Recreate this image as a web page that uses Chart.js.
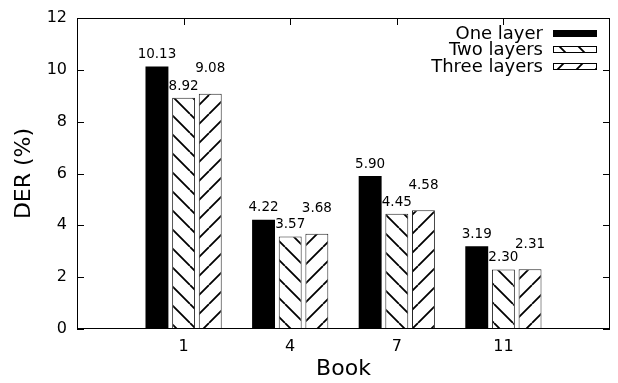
<!DOCTYPE html>
<html>
<head>
<meta charset="utf-8">
<script src="https://cdn.jsdelivr.net/npm/chart.js@4.4.1/dist/chart.umd.min.js"></script>
<style>
  html, body { margin: 0; padding: 0; background: #fff; }
  #wrap { width: 618px; height: 383px; }
</style>
</head>
<body>
<div id="wrap"><canvas id="derChart" width="618" height="383"></canvas></div>
<script>
// --- data ---
const books = ['1', '4', '7', '11'];
const oneLayer = [10.13, 4.22, 5.90, 3.19];
const twoLayers = [8.92, 3.57, 4.45, 2.30];
const threeLayers = [9.08, 3.68, 4.58, 2.31];
const seriesNames = ['One layer', 'Two layers', 'Three layers'];
const yTicks = [0, 2, 4, 6, 8, 10, 12];

const FONT = 'DejaVu Sans';
const canvas = document.getElementById('derChart');
const ctx = canvas.getContext('2d');

// hatch fill like gnuplot patterns
function hatch(dir) {
    const s = 19;
    const c = document.createElement('canvas');
    c.width = s; c.height = s;
    const g = c.getContext('2d');
    g.fillStyle = '#fff';
    g.fillRect(0, 0, s, s);
    g.strokeStyle = '#000';
    g.lineWidth = 1.8;
    g.beginPath();
    for (let k = -1; k <= 1; k++) {
        const o = k * s;
        if (dir === 'back') { g.moveTo(o, 0); g.lineTo(o + s, s); }
        else { g.moveTo(o + s, 0); g.lineTo(o, s); }
    }
    g.stroke();
    return ctx.createPattern(c, 'repeat');
}
const backHatch = hatch('back');
const fwdHatch = hatch('fwd');

// empty slot at each end so the groups sit like in gnuplot
const pad = arr => [null, ...arr, null];
const xLabels = ['', ...books, ''];

// inward ticks on all four sides + the frame
const frameTicks = {
    id: 'frameTicks',
    beforeDatasetsDraw(chart) {
        const { ctx, chartArea: a, scales } = chart;
        const L = Math.round(a.left), R = Math.round(a.right);
        const T = Math.round(a.top), B = Math.round(a.bottom);
        ctx.save();
        ctx.fillStyle = '#000';
        yTicks.forEach(v => {
            const y = Math.round(scales.y.getPixelForValue(v));
            ctx.fillRect(L, y, 7, 1);
            ctx.fillRect(R - 7, y, 7, 1);
        });
        books.forEach((b, i) => {
            const x = Math.round(scales.x.getPixelForValue(i + 1));
            ctx.fillRect(x, B - 7, 1, 7);
            ctx.fillRect(x, T, 1, 7);
        });
        ctx.restore();
    },
    afterDatasetsDraw(chart) {
        const { ctx, chartArea: a } = chart;
        const L = Math.round(a.left), R = Math.round(a.right);
        const T = Math.round(a.top), B = Math.round(a.bottom);
        ctx.save();
        ctx.fillStyle = '#000';
        ctx.fillRect(L, T, R - L, 1);
        ctx.fillRect(L, B - 1, R - L, 1);
        ctx.fillRect(L, T, 1, B - T);
        ctx.fillRect(R - 1, T, 1, B - T);
        ctx.restore();
    }
};

// numbers above bars
const valueLabels = {
    id: 'valueLabels',
    afterDatasetsDraw(chart) {
        const { ctx } = chart;
        const lift = [8.5, 8, 21.5];
        ctx.save();
        ctx.font = '13.5px ' + FONT;
        ctx.fillStyle = '#000';
        ctx.textAlign = 'center';
        ctx.textBaseline = 'alphabetic';
        chart.data.datasets.forEach((ds, di) => {
            chart.getDatasetMeta(di).data.forEach((bar, i) => {
                const v = ds.data[i];
                if (v === null) return;
                ctx.fillText(v.toFixed(2), bar.x, bar.y - lift[di]);
            });
        });
        ctx.restore();
    }
};

// gnuplot style key: text right aligned, sample on the right
const keyBox = {
    id: 'keyBox',
    afterDraw(chart) {
        const { ctx } = chart;
        const textRight = 543, sx = 553, sw = 44, sh = 7;
        const rows = [33, 49.5, 66];
        ctx.save();
        ctx.font = '18px ' + FONT;
        ctx.textAlign = 'right';
        ctx.textBaseline = 'middle';
        chart.data.datasets.forEach((ds, i) => {
            const y = rows[i];
            const top = Math.round(y - sh / 2);
            ctx.fillStyle = '#000';
            ctx.fillText(ds.label, textRight, y + 1);
            ctx.fillStyle = ds.backgroundColor;
            ctx.fillRect(sx, top, sw, sh);
            ctx.strokeStyle = '#000';
            ctx.lineWidth = 1;
            ctx.strokeRect(sx + 0.5, top + 0.5, sw - 1, sh - 1);
        });
        ctx.restore();
    }
};

new Chart(ctx, {
    type: 'bar',
    data: {
        labels: xLabels,
        datasets: [
            { label: seriesNames[0], data: pad(oneLayer), backgroundColor: '#000', borderColor: '#000', borderWidth: 0 },
            { label: seriesNames[1], data: pad(twoLayers), backgroundColor: backHatch, borderColor: '#222', borderWidth: 1 },
            { label: seriesNames[2], data: pad(threeLayers), backgroundColor: fwdHatch, borderColor: '#222', borderWidth: 1 }
        ]
    },
    options: {
        responsive: false,
        animation: false,
        devicePixelRatio: 1,
        layout: { padding: { top: 18, right: 8, left: 0, bottom: 0 } },
        datasets: { bar: { categoryPercentage: 0.75, barPercentage: 0.86 } },
        plugins: { legend: { display: false }, tooltip: { enabled: false } },
        scales: {
            x: {
                type: 'category',
                offset: false,
                grid: { display: false },
                border: { display: false },
                ticks: { font: { family: FONT, size: 16 }, color: '#000', padding: 0, autoSkip: false, maxRotation: 0 },
                title: { display: true, text: 'Book', font: { family: FONT, size: 22 }, color: '#000', padding: { top: 0, bottom: 1 } },
                afterFit(s) { s.height = 54; }
            },
            y: {
                min: 0,
                max: 12,
                grid: { display: false },
                border: { display: false },
                ticks: { stepSize: 2, font: { family: FONT, size: 16 }, color: '#000', padding: 2 },
                title: { display: true, text: 'DER (%)', font: { family: FONT, size: 22 }, color: '#000', padding: { top: 11, bottom: 0 } },
                afterFit(s) { s.width = 77; }
            }
        }
    },
    plugins: [frameTicks, valueLabels, keyBox]
});
</script>
</body>
</html>
